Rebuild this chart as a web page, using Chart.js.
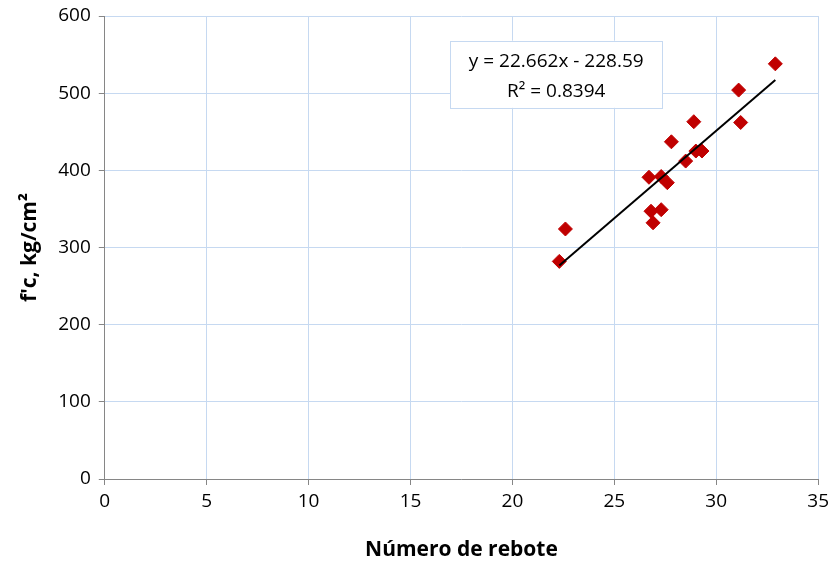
<!DOCTYPE html>
<html lang="es">
<head>
<meta charset="UTF-8">
<title>Número de rebote vs f'c</title>
<script src="https://cdn.jsdelivr.net/npm/chart.js@4.4.1/dist/chart.umd.min.js"></script>
<style>
  html, body { margin: 0; padding: 0; background: #fff; }
  .wrapper { width: 834px; height: 565px; position: relative; }
</style>
</head>
<body>
<div class="wrapper">
  <canvas id="myChart"></canvas>
</div>
<script>
// rebound number (x) and compressive strength f'c in kg/cm2 (y)
var rebote = [32.9, 31.1, 31.2, 28.9, 27.8, 29.0, 29.3, 28.5, 26.7, 27.3, 27.6, 26.8, 27.3, 26.9, 22.6, 22.3];
var fc     = [538, 504, 462, 463, 437, 425, 425, 412, 391, 392, 384, 347, 349, 332, 324, 282];

// linear trend line shown in the chart label
var slope = 22.662;
var intercept = -228.59;
var r2 = 0.8394;

var xTicks = [0, 5, 10, 15, 20, 25, 30, 35];
var yTicks = [0, 100, 200, 300, 400, 500, 600];

var FONT = "'Open Sans', 'Liberation Sans', sans-serif";

var points = rebote.map(function (v, i) { return { x: v, y: fc[i] }; });
var xmin = Math.min.apply(null, rebote);
var xmax = Math.max.apply(null, rebote);
var trend = [
  { x: xmin, y: slope * xmin + intercept },
  { x: xmax, y: slope * xmax + intercept }
];

// equation box, anchored in data coordinates
var eqBox = {
  id: 'eqBox',
  afterDatasetsDraw: function (chart) {
    var ctx = chart.ctx;
    var xs = chart.scales.x, ys = chart.scales.y;
    var left = xs.getPixelForValue(16.95), right = xs.getPixelForValue(27.35);
    var top = ys.getPixelForValue(568), bottom = ys.getPixelForValue(481);
    ctx.save();
    ctx.fillStyle = '#fff';
    ctx.fillRect(left, top, right - left, bottom - top);
    ctx.strokeStyle = '#c6d9f1';
    ctx.lineWidth = 1;
    ctx.strokeRect(Math.round(left) + 0.5, Math.round(top) + 0.5, Math.round(right - left), Math.round(bottom - top));
    ctx.fillStyle = '#000';
    ctx.font = '19px ' + FONT;
    ctx.textAlign = 'center';
    ctx.textBaseline = 'middle';
    var cx = (left + right) / 2;
    var sign = intercept < 0 ? ' - ' : ' + ';
    ctx.fillText('y = ' + slope.toFixed(3) + 'x' + sign + Math.abs(intercept).toFixed(2), cx, top + 21);
    ctx.fillText('R² = ' + r2.toFixed(4), cx, top + 51);
    ctx.restore();
  }
};

var ctx = document.getElementById('myChart').getContext('2d');
var chart = new Chart(ctx, {
  type: 'scatter',
  data: {
    datasets: [
      {
        label: 'Datos',
        data: points,
        pointStyle: 'rectRot',
        pointRadius: 7,
        pointHoverRadius: 7,
        backgroundColor: '#c00000',
        borderColor: '#c00000',
        borderWidth: 1,
        order: 2
      },
      {
        label: 'Lineal',
        type: 'line',
        data: trend,
        borderColor: '#000',
        borderWidth: 2,
        pointRadius: 0,
        fill: false,
        order: 1
      }
    ]
  },
  options: {
    responsive: true,
    maintainAspectRatio: false,
    animation: false,
    layout: { padding: { top: 0, right: 14, left: 13, bottom: 2 } },
    plugins: {
      legend: { display: false },
      tooltip: { enabled: false }
    },
    scales: {
      x: {
        type: 'linear',
        min: 0,
        max: 35,
        afterBuildTicks: function (axis) { axis.ticks = xTicks.map(function (v) { return { value: v }; }); },
        grid: { color: '#c6d9f1', tickColor: '#868686', tickLength: 6 },
        border: { color: '#868686', width: 1 },
        ticks: { color: '#000', font: { family: FONT, size: 19 }, padding: 5, maxRotation: 0 },
        title: {
          display: true,
          text: 'Número de rebote',
          color: '#000',
          font: { family: FONT, size: 21, weight: 'bold' },
          padding: { top: 20, bottom: 0 }
        }
      },
      y: {
        type: 'linear',
        min: 0,
        max: 600,
        afterBuildTicks: function (axis) { axis.ticks = yTicks.map(function (v) { return { value: v }; }); },
        afterFit: function (axis) { axis.paddingTop = 16; },
        grid: { color: '#c6d9f1', tickColor: '#868686', tickLength: 6 },
        border: { color: '#868686', width: 1 },
        ticks: { color: '#000', font: { family: FONT, size: 19 }, padding: 8 },
        title: {
          display: true,
          text: "f'c, kg/cm²",
          color: '#000',
          font: { family: FONT, size: 21, weight: 'bold' },
          padding: { bottom: 8 }
        }
      }
    }
  },
  plugins: [eqBox]
});
</script>
</body>
</html>
